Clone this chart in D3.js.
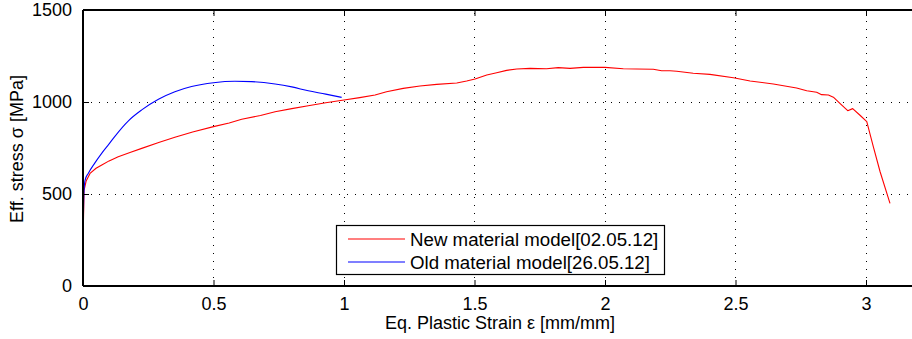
<!DOCTYPE html>
<html>
<head>
<meta charset="utf-8">
<script src="https://cdn.jsdelivr.net/npm/d3@7"></script>
<style>
  html, body { margin: 0; padding: 0; background: #fff; }
  svg { display: block; font-family: "Liberation Sans", Arial, sans-serif; }
</style>
</head>
<body>
<svg id="chart" width="912" height="339"></svg>
<script>
// Strain (mm/mm) and effective stress (MPa) for each material model
const newStrain = [0, 0.001, 0.004, 0.012, 0.027, 0.05, 0.072, 0.1, 0.135, 0.18, 0.225, 0.29, 0.352, 0.42, 0.5, 0.56, 0.608, 0.68, 0.736, 0.8, 0.863, 0.93, 1.0, 1.06, 1.119, 1.163, 1.227, 1.291, 1.355, 1.432, 1.47, 1.502, 1.547, 1.585, 1.623, 1.662, 1.713, 1.776, 1.821, 1.866, 1.917, 2.0, 2.07, 2.121, 2.185, 2.217, 2.249, 2.275, 2.338, 2.402, 2.492, 2.556, 2.645, 2.734, 2.773, 2.811, 2.83, 2.856, 2.875, 2.9, 2.93, 2.949, 2.977, 3.003, 3.028, 3.054, 3.092];
const newStress = [0, 300, 520, 570, 612, 640, 658, 680, 703, 726, 748, 780, 808, 837, 866, 886, 906, 927, 947, 964, 980, 996, 1011, 1024, 1038, 1056, 1074, 1087, 1096, 1103, 1114, 1125, 1147, 1159, 1172, 1179, 1183, 1181, 1187, 1183, 1188, 1188, 1181, 1179, 1178, 1170, 1170, 1167, 1156, 1150, 1132, 1114, 1098, 1076, 1061, 1053, 1040, 1038, 1026, 993, 953, 964, 928, 893, 757, 621, 449];

const oldStrain = [0, 0.001, 0.004, 0.008, 0.02, 0.045, 0.0715, 0.1, 0.123, 0.174, 0.225, 0.289, 0.352, 0.416, 0.5, 0.582, 0.646, 0.736, 0.8, 0.863, 0.93, 0.991];
const oldStress = [0, 300, 520, 576, 612, 668, 721, 772, 815, 898, 957, 1015, 1056, 1084, 1105, 1113, 1111, 1098, 1082, 1061, 1043, 1025];

const seriesNames = ["New material model[02.05.12]", "Old material model[26.05.12]"];
const seriesColors = ["#ff0000", "#0000ff"];

const xTicks = [0, 0.5, 1, 1.5, 2, 2.5, 3];
const yTicks = [0, 500, 1000, 1500];
const xLabel = "Eq. Plastic Strain \u03b5 [mm/mm]";
const yLabel = "Eff. stress \u03c3 [MPa]";

const svg = d3.select("#chart");
const plotLeft = 83, plotTop = 10, plotBottom = 286;

const x = d3.scaleLinear().domain([0, 3.2]).range([plotLeft, plotLeft + 3.2 * 261]);
const y = d3.scaleLinear().domain([0, 1500]).range([plotBottom, plotTop]);
const plotRight = x(3.2);

// Dotted grid lines
const grid = svg.append("g").attr("stroke", "#000").attr("stroke-width", 1)
  .attr("stroke-dasharray", "1,7").attr("shape-rendering", "crispEdges");
xTicks.filter(d => d > 0).forEach(d => {
  grid.append("line").attr("x1", x(d)).attr("x2", x(d)).attr("y1", plotBottom).attr("y2", plotTop);
});
yTicks.filter(d => d > 0 && d < 1500).forEach(d => {
  grid.append("line").attr("x1", plotLeft).attr("x2", plotRight).attr("y1", y(d)).attr("y2", y(d));
});

// Curves: the new model is piecewise linear, the old model is smooth
const curves = [d3.curveLinear, d3.curveMonotoneX];
const series = [
  d3.zip(newStrain, newStress),
  d3.zip(oldStrain, oldStress)
];
series.forEach((pts, i) => {
  const line = d3.line().x(d => x(d[0])).y(d => y(d[1])).curve(curves[i]);
  svg.append("path").datum(pts).attr("d", line)
    .attr("fill", "none").attr("stroke", seriesColors[i]).attr("stroke-width", 1.1)
    .attr("stroke-linejoin", "round");
});

// Axes (ticks pointing inward, mirrored on the top edge)
const axisStyle = g => {
  g.selectAll("path").remove();
  g.selectAll("line").attr("stroke", "#000");
  g.selectAll("text").attr("fill", "#000").attr("font-size", 18)
    .attr("font-family", "Liberation Sans, Arial, sans-serif");
};
svg.append("g").attr("transform", `translate(0,${plotBottom})`)
  .call(d3.axisBottom(x).tickValues(xTicks).tickFormat(d3.format("")).tickSizeInner(-6).tickPadding(11))
  .call(axisStyle);
svg.append("g").attr("transform", `translate(0,${plotTop})`)
  .call(d3.axisTop(x).tickValues(xTicks).tickFormat("").tickSizeInner(-6))
  .call(axisStyle);
svg.append("g").attr("transform", `translate(${plotLeft},0)`)
  .call(d3.axisLeft(y).tickValues(yTicks).tickFormat(d3.format("d")).tickSizeInner(-6).tickPadding(11))
  .call(axisStyle);

const frame = svg.append("g").attr("stroke", "#000").attr("stroke-width", 1.3)
  .attr("shape-rendering", "crispEdges");
frame.append("line").attr("x1", plotLeft).attr("x2", plotRight).attr("y1", plotTop).attr("y2", plotTop);
frame.append("line").attr("x1", plotLeft).attr("x2", plotRight).attr("y1", plotBottom).attr("y2", plotBottom);
frame.append("line").attr("x1", plotLeft).attr("x2", plotLeft).attr("y1", plotTop).attr("y2", plotBottom);

// Axis titles
svg.append("text").attr("x", 500).attr("y", 329).attr("text-anchor", "middle")
  .attr("font-size", 18).attr("fill", "#000").text(xLabel);
svg.append("text").attr("transform", `translate(23,${(plotTop + plotBottom) / 2 + 1}) rotate(-90)`)
  .attr("text-anchor", "middle").attr("font-size", 18).attr("fill", "#000").text(yLabel);

// Legend
const lg = svg.append("g");
lg.append("rect").attr("x", 336.5).attr("y", 225.5).attr("width", 328).attr("height", 49)
  .attr("fill", "#fff").attr("stroke", "#000").attr("stroke-width", 1.2);
seriesNames.forEach((name, i) => {
  const ly = 239 + i * 23;
  lg.append("line").attr("x1", 348).attr("x2", 405).attr("y1", ly).attr("y2", ly)
    .attr("stroke", seriesColors[i]).attr("stroke-width", 1.1);
  lg.append("text").attr("x", 410).attr("y", ly + 6.5).attr("font-size", 18.7)
    .attr("fill", "#000").text(name);
});
</script>
</body>
</html>
